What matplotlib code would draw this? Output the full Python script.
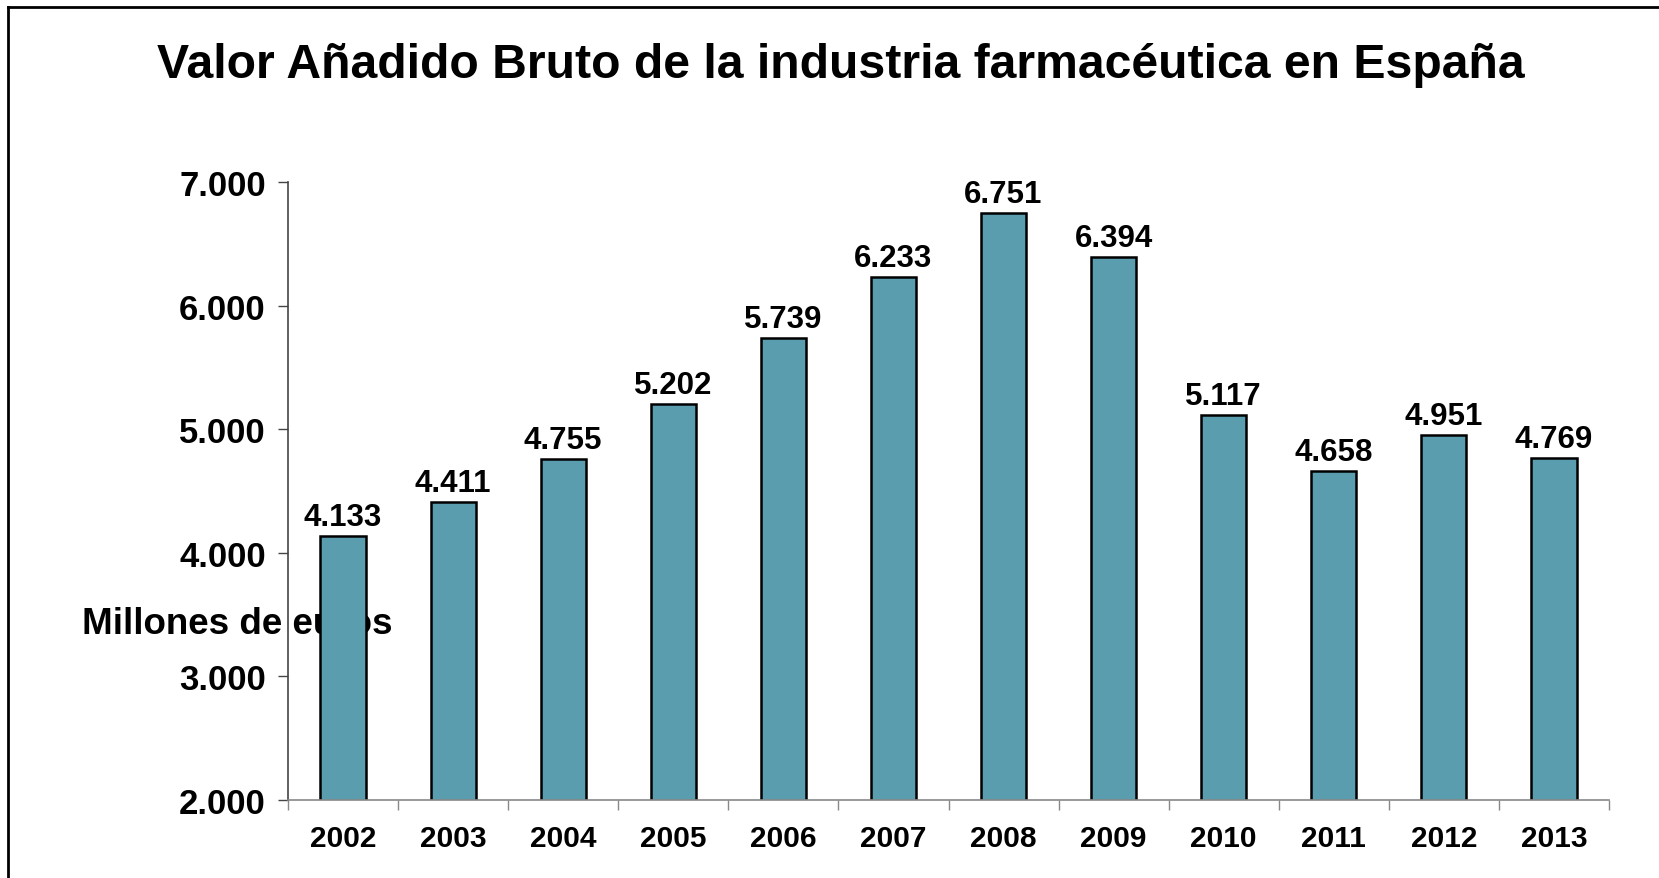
import matplotlib
matplotlib.use("Agg")
import matplotlib.pyplot as plt
import matplotlib.transforms as mtransforms
from matplotlib.lines import Line2D

years = ["2002", "2003", "2004", "2005", "2006", "2007", "2008", "2009", "2010", "2011", "2012", "2013"]
values = [4133, 4411, 4755, 5202, 5739, 6233, 6751, 6394, 5117, 4658, 4951, 4769]
value_labels = ["4.133", "4.411", "4.755", "5.202", "5.739", "6.233", "6.751", "6.394", "5.117", "4.658", "4.951", "4.769"]
y_ticks = [2000, 3000, 4000, 5000, 6000, 7000]
y_tick_labels = ["2.000", "3.000", "4.000", "5.000", "6.000", "7.000"]

plt.rcParams['font.family'] = ['Liberation Sans', 'DejaVu Sans']
plt.rcParams['font.weight'] = 'bold'

fig = plt.figure(figsize=(16.59, 8.79), dpi=100)
ax = fig.add_axes([288/1659, 1-801/879, (1609-288)/1659, (801-183)/879])
ax.patch.set_visible(False)

x = list(range(len(years)))
ax.bar(x, values, width=0.41, bottom=0, color='#5A9DAE', edgecolor='black', linewidth=1.8, zorder=2)
ax.set_ylim(2000, 7000)
ax.set_xlim(-0.5, len(years) - 0.5)

for xi, v, lab in zip(x, values, value_labels):
    ax.annotate(lab, (xi, v), xytext=(0, 11), textcoords='offset pixels',
                ha='center', va='baseline', fontsize=22.5, fontweight='bold', zorder=3)

ax.set_yticks(y_ticks)
ax.set_yticklabels(y_tick_labels, fontsize=25, fontweight='bold')
ax.tick_params(axis='y', direction='out', length=7, width=1, color='#444444', pad=9)

ax.set_xticks([i - 0.5 for i in range(len(years) + 1)])
ax.set_xticklabels([])
ax.tick_params(axis='x', which='major', direction='out', length=7, width=1, color='#888888')
ax.set_xticks(x, minor=True)
ax.set_xticklabels(years, minor=True, fontsize=21.5, fontweight='bold')
ax.tick_params(axis='x', which='minor', length=0, pad=17.5)

for s in ['top', 'right']:
    ax.spines[s].set_visible(False)
ax.spines['left'].set_color('#444444')
ax.spines['bottom'].set_color('#888888')
ax.spines['left'].set_linewidth(1.2)
ax.spines['bottom'].set_linewidth(1.2)

trans = mtransforms.blended_transform_factory(ax.transAxes, ax.transData)
ax.text((82 - 288) / (1609 - 288), 3430, "Millones de euros", transform=trans,
        ha='left', va='center', fontsize=26.5, fontweight='bold', zorder=1, clip_on=False)

fig.text(841/1659, 1 - 66/879, "Valor Añadido Bruto de la industria farmacéutica en España",
         ha='center', va='center', fontsize=34.7, fontweight='bold')

fig.add_artist(Line2D([8/1659, 8/1659], [0, 1 - 8/879], transform=fig.transFigure, color='black', linewidth=2))
fig.add_artist(Line2D([8/1659, 1], [1 - 8/879, 1 - 8/879], transform=fig.transFigure, color='black', linewidth=2))

fig.savefig("out.png", dpi=100)
